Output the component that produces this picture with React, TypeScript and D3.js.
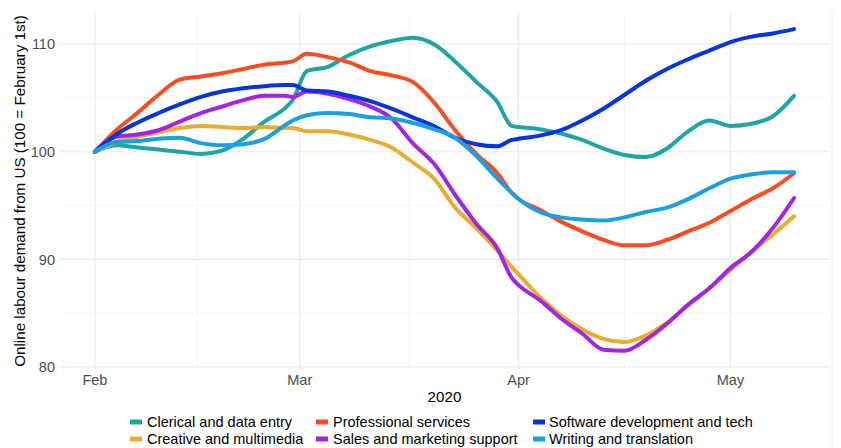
import React from "react";
import * as d3 from "d3";

const days = [0, 3, 6, 9, 12, 15, 18, 21, 24, 27, 28, 30, 33, 36, 39, 42, 45, 48, 51, 54, 57, 59, 60, 63, 66, 69, 72, 75, 78, 81, 84, 87, 90, 93, 96, 99];

const clerical = [100, 100.6, 100.4, 100.2, 100.0, 99.8, 100.1, 101.2, 102.8, 104.1, 104.8, 107.5, 107.9, 109.0, 109.8, 110.3, 110.6, 110.0, 108.4, 106.5, 104.6, 102.4, 102.3, 102.1, 101.7, 101.1, 100.3, 99.7, 99.5, 100.3, 101.9, 102.9, 102.4, 102.6, 103.3, 105.2];
const creative = [100, 100.9, 101.4, 101.8, 102.2, 102.4, 102.3, 102.2, 102.3, 102.2, 102.2, 101.9, 101.9, 101.6, 101.1, 100.4, 99.0, 97.5, 94.8, 92.9, 90.8, 89.3, 88.6, 86.5, 84.8, 83.5, 82.6, 82.3, 82.9, 84.1, 85.7, 87.3, 89.0, 90.7, 92.3, 94.0];
const professional = [100, 102.0, 103.6, 105.3, 106.7, 107.0, 107.3, 107.7, 108.1, 108.3, 108.4, 109.1, 108.8, 108.3, 107.5, 107.1, 106.5, 104.6, 102.0, 99.8, 98.0, 96.2, 95.6, 94.6, 93.5, 92.6, 91.8, 91.3, 91.3, 91.8, 92.6, 93.4, 94.5, 95.6, 96.6, 98.0];
const sales = [100, 101.4, 101.6, 102.0, 102.8, 103.6, 104.2, 104.8, 105.2, 105.2, 105.1, 105.6, 105.4, 104.9, 104.2, 103.1, 100.8, 98.9, 96.0, 93.3, 91.0, 88.3, 87.6, 86.2, 84.5, 83.1, 81.6, 81.5, 82.5, 84.0, 85.8, 87.3, 89.2, 90.7, 92.9, 95.7];
const software = [100, 101.6, 102.7, 103.6, 104.4, 105.1, 105.6, 105.9, 106.1, 106.2, 106.2, 105.7, 105.6, 105.2, 104.7, 104.0, 103.2, 102.4, 101.3, 100.7, 100.5, 101.1, 101.2, 101.5, 102.0, 102.9, 104.0, 105.3, 106.6, 107.7, 108.6, 109.4, 110.2, 110.7, 111.0, 111.4];
const writing = [100, 100.9, 101.0, 101.2, 101.3, 100.8, 100.6, 100.7, 101.2, 102.5, 102.9, 103.4, 103.6, 103.5, 103.2, 103.1, 102.7, 102.1, 101.3, 99.6, 97.5, 96.2, 95.6, 94.4, 93.9, 93.7, 93.6, 93.9, 94.4, 94.8, 95.6, 96.6, 97.5, 97.9, 98.1, 98.1];

const seriesNames = [
  "Clerical and data entry",
  "Creative and multimedia",
  "Professional services",
  "Sales and marketing support",
  "Software development and tech",
  "Writing and translation",
];
const seriesValues = [clerical, creative, professional, sales, software, writing];
const seriesColors = ["#1ea5a6", "#e6ad2e", "#ff4b1f", "#a524e4", "#0434e0", "#1aa0e2"];

const monthTicks = [0, 29, 60, 90];
const monthLabels = ["Feb", "Mar", "Apr", "May"];
const minorXTicks = [14.5, 44.5, 75];
const yTicks = [80, 90, 100, 110];
const yMinor = [85, 95, 105];

// legend layout: column-major (ggplot style)
const legendOrder = [0, 2, 4, 1, 3, 5];

export default function App() {
  if (typeof document !== "undefined") document.body.style.margin = "0";
  const W = 841, H = 448;
  const left = 60, right = 829, top = 13, bottom = 369;
  const x = d3.scaleLinear().domain([-4.95, 103.95]).range([left, right]);
  const y = d3.scaleLinear().domain([79.8, 112.9]).range([bottom, top]);
  const line = d3
    .line<number>()
    .x((_, i) => x(days[i]))
    .y((v) => y(v))
    .curve(d3.curveMonotoneX);

  const font = "'Liberation Sans', Arial, Helvetica, sans-serif";
  const legendCols = [
    { key: 130, text: 147 },
    { key: 316, text: 333 },
    { key: 533, text: 549 },
  ];
  const legendRows = [422, 439];

  return (
    <svg width={W} height={H} style={{ display: "block", fontFamily: font }}>
      <rect width={W} height={H} fill="#ffffff" />
      {yMinor.map((v) => (
        <line key={"ym" + v} x1={left} x2={right} y1={y(v)} y2={y(v)} stroke="#f4f4f4" strokeWidth={0.8} />
      ))}
      {minorXTicks.map((d) => (
        <line key={"xm" + d} x1={x(d)} x2={x(d)} y1={top} y2={bottom} stroke="#f4f4f4" strokeWidth={0.8} />
      ))}
      {yTicks.map((v) => (
        <line key={"y" + v} x1={left} x2={right} y1={y(v)} y2={y(v)} stroke="#ebebeb" strokeWidth={1.2} />
      ))}
      {monthTicks.map((d) => (
        <line key={"x" + d} x1={x(d)} x2={x(d)} y1={top} y2={bottom} stroke="#ebebeb" strokeWidth={1.2} />
      ))}
      {seriesValues.map((vals, i) => (
        <path
          key={seriesNames[i]}
          d={line(vals) || ""}
          fill="none"
          stroke={seriesColors[i]}
          strokeWidth={4}
          strokeLinejoin="round"
          strokeLinecap="round"
        />
      ))}
      {yTicks.map((v) => (
        <text key={"yt" + v} x={55} y={y(v)} dy="0.36em" textAnchor="end" fontSize={14.5} fill="#4d4d4d">
          {v}
        </text>
      ))}
      {monthTicks.map((d, i) => (
        <text key={"xt" + d} x={x(d)} y={385} textAnchor="middle" fontSize={14.5} fill="#4d4d4d">
          {monthLabels[i]}
        </text>
      ))}
      <text x={(left + right) / 2} y={401.5} textAnchor="middle" fontSize={15.2} fill="#000">
        2020
      </text>
      <text
        transform={`translate(25,${(top + bottom) / 2}) rotate(-90)`}
        textAnchor="middle"
        fontSize={15.2}
        fill="#000"
      >
        Online labour demand from US (100 = February 1st)
      </text>
      {legendOrder.map((si, k) => {
        const col = legendCols[k % 3];
        const row = legendRows[Math.floor(k / 3)];
        return (
          <g key={"lg" + si}>
            <rect x={col.key} y={row - 2.5} width={12} height={5} fill={seriesColors[si]} />
            <text x={col.text} y={row} dy="0.36em" fontSize={14.5} fill="#000">
              {seriesNames[si]}
            </text>
          </g>
        );
      })}
      <line x1={832} x2={832} y1={10} y2={448} stroke="#f0f0f0" strokeWidth={1} />
    </svg>
  );
}
